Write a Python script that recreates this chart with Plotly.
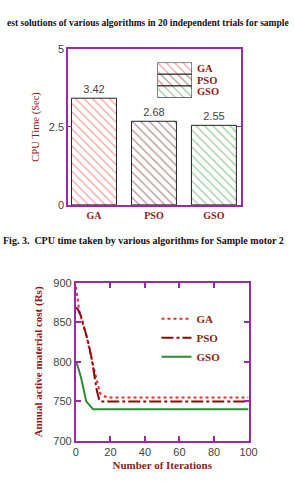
import plotly.graph_objects as go

# ---------- data ----------
algorithms = ["GA", "PSO", "GSO"]
cpu_time = [3.42, 2.68, 2.55]
bar_colors = ["#e04848", "#6b2a2a", "#3a9a3a"]
legend_swatch = [1, 1, 1]

ga_iter = [0, 1, 2, 4, 6, 8, 10, 12, 14, 16, 18, 100]
ga_cost = [895, 880, 864, 848, 834, 814, 795, 775, 760, 757, 755, 755]
pso_iter = [0, 1, 3, 5, 7, 9, 11, 12, 13.5, 14, 100]
pso_cost = [869, 867, 858, 843, 826, 806, 780, 765, 752, 750, 750]
gso_iter = [0, 1, 3, 5, 6, 8, 10, 100]
gso_cost = [800, 795, 780, 762, 750, 745, 740, 740]

W, H = 294, 481
PURPLE = "#9c27a8"
DARKRED = "#8e1b1b"
SERIF = "Liberation Serif"
SANS = "Liberation Sans"

def px_x(a, b):
    return [a / W, b / W]

def px_y(top, bottom):
    return [1 - bottom / H, 1 - top / H]

fig = go.Figure()

# ---------- bar chart ----------
fig.add_trace(go.Bar(
    x=algorithms, y=cpu_time, xaxis="x", yaxis="y", width=0.75,
    text=[f"{v:.2f}" for v in cpu_time], textposition="outside",
    textfont=dict(family=SANS, size=11, color="#444"), cliponaxis=False,
    marker=dict(color="white", line=dict(color="#222", width=1),
                pattern=dict(shape="\\", fgcolor=bar_colors, bgcolor="white",
                             size=6, solidity=0.22)),
    showlegend=False, hoverinfo="skip"))

# legend swatches for bar chart
fig.add_trace(go.Bar(
    y=algorithms, x=legend_swatch, orientation="h", xaxis="x3", yaxis="y3",
    width=1,
    marker=dict(color="white", line=dict(color="#222", width=1),
                pattern=dict(shape="\\", fgcolor=bar_colors, bgcolor="white",
                             size=6, solidity=0.22)),
    showlegend=False, hoverinfo="skip"))

# ---------- line chart ----------
fig.add_trace(go.Scatter(x=ga_iter, y=ga_cost, xaxis="x2", yaxis="y2", name="GA",
                         mode="lines", line=dict(color="#e8302a", width=2, dash="3px,3px")))
fig.add_trace(go.Scatter(x=pso_iter, y=pso_cost, xaxis="x2", yaxis="y2", name="PSO",
                         mode="lines", line=dict(color="#8b0a0a", width=2, dash="12px,3px,3px,3px")))
fig.add_trace(go.Scatter(x=gso_iter, y=gso_cost, xaxis="x2", yaxis="y2", name="GSO",
                         mode="lines", line=dict(color="#2e8b2e", width=2)))

tickfont = dict(family=SANS, size=11, color="#444")
titlefont = dict(family=SERIF, size=11, color=DARKRED, weight="bold")

fig.update_layout(
    width=W, height=H, margin=dict(l=0, r=0, t=0, b=0),
    paper_bgcolor="white", plot_bgcolor="white",
    showlegend=True,
    xaxis=dict(domain=px_x(68, 248), range=[-0.43, 2.45], showline=True,
               linecolor=PURPLE, linewidth=2, mirror=True, ticks="",
               tickfont=dict(family=SERIF, size=10, color=DARKRED, weight="bold"),
               showgrid=False, zeroline=False, fixedrange=True),
    yaxis=dict(domain=px_y(44, 204), range=[0, 5], tickvals=[0, 2.5, 5],
               ticktext=["0", "2.5", "5"], showline=True, linecolor=PURPLE,
               linewidth=2, mirror="ticks", ticks="inside", ticklen=4,
               tickcolor=PURPLE, tickfont=tickfont, showgrid=False, zeroline=False,
               title=dict(text="CPU Time (Sec)", standoff=7,
                          font=dict(family=SERIF, size=10.5, color=DARKRED))),
    xaxis3=dict(domain=px_x(161, 197), range=[0, 1], visible=False, anchor="y3"),
    yaxis3=dict(domain=px_y(58, 94), anchor="x3", side="right",
                tickmode="array", tickvals=algorithms, ticktext=algorithms,
                categoryorder="array", categoryarray=algorithms, autorange="reversed",
                showline=False, ticks="", showgrid=False, zeroline=False,
                ticklabelstandoff=4,
                tickfont=dict(family=SERIF, size=10.5, color=DARKRED, weight="bold")),
    xaxis2=dict(domain=px_x(76, 256), range=[0, 100], anchor="y2",
                tickvals=[0, 20, 40, 60, 80, 100], showline=True, linecolor=PURPLE,
                linewidth=2, mirror="ticks", ticks="inside", ticklen=5,
                tickcolor=PURPLE, tickwidth=2, tickfont=tickfont, showgrid=False,
                zeroline=False,
                title=dict(text="Number of Iterations", standoff=4, font=titlefont)),
    yaxis2=dict(domain=px_y(284, 446), range=[700, 900], anchor="x2",
                tickvals=[700, 750, 800, 850, 900], showline=True, linecolor=PURPLE,
                linewidth=2, mirror="ticks", ticks="inside", ticklen=5,
                tickcolor=PURPLE, tickwidth=2, tickfont=tickfont, showgrid=False,
                zeroline=False,
                title=dict(text="Annual active material cost (Rs)", standoff=8,
                           font=titlefont)),
    legend=dict(x=160 / W, y=1 - 306 / H, xanchor="left", yanchor="top",
                bgcolor="rgba(0,0,0,0)", borderwidth=0,
                font=dict(family=SERIF, size=11, color=DARKRED, weight="bold"),
                tracegroupgap=0),
    annotations=[
        dict(text="est solutions of various algorithms in 20 independent trials for sample",
             x=2 / W, y=1 - 17 / H, xref="paper", yref="paper", xanchor="left",
             yanchor="middle", showarrow=False,
             font=dict(family=SERIF, size=9.5, color="#111", weight="bold")),
        dict(text="Fig. 3.  CPU time taken by various algorithms for Sample motor 2",
             x=146 / W, y=1 - 241 / H, xref="paper", yref="paper", xanchor="center",
             yanchor="middle", showarrow=False,
             font=dict(family=SERIF, size=10, color="#111", weight="bold")),
    ],
)

fig.write_html("out.html")
